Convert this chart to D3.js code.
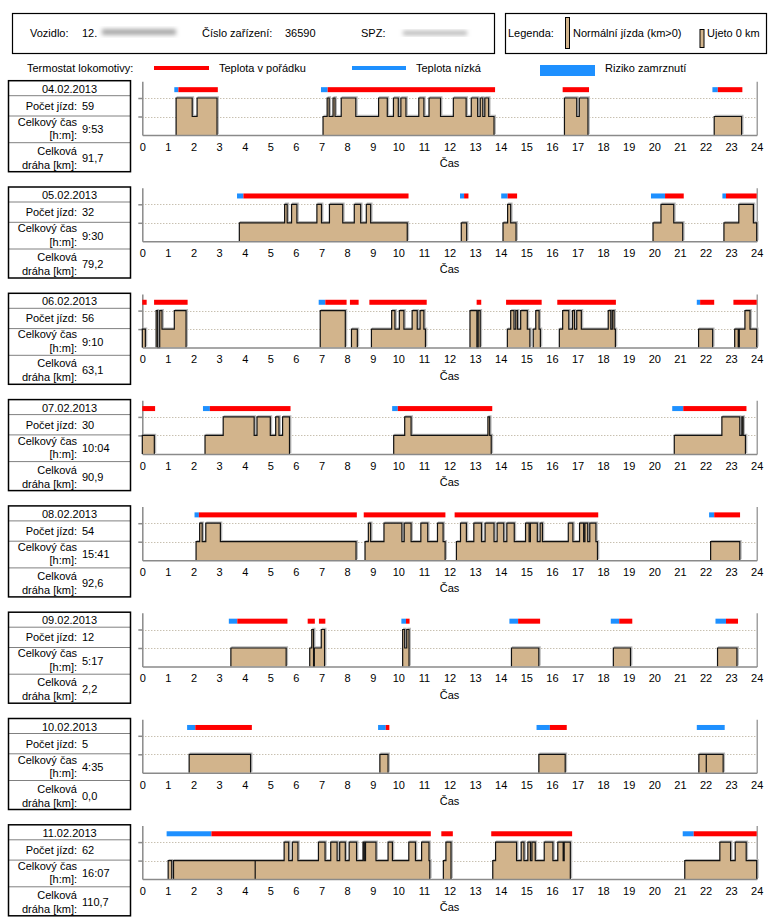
<!DOCTYPE html>
<html><head><meta charset="utf-8">
<script src="https://cdn.jsdelivr.net/npm/d3@7"></script>
<style>
body{margin:0;background:#fff;}
svg{display:block;font-family:"Liberation Sans",Arial,sans-serif;font-size:11px;}
</style></head><body>
<svg id="c" width="777" height="923"></svg>
<script>
// ---------- data ----------
const dates = ["04.02.2013","05.02.2013","06.02.2013","07.02.2013","08.02.2013","09.02.2013","10.02.2013","11.02.2013"];
const tripCounts = ["59","32","56","30","54","12","5","62"];
const totalTimes = ["9:53","9:30","9:10","10:04","15:41","5:17","4:35","16:07"];
const distances = ["91,7","79,2","63,1","90,9","92,6","2,2","0,0","110,7"];
const hourTicks = d3.range(0, 25);
const levelTicks = [1, 2];

// trips: [hour, level] step points, last point level 0
const trips0402 = [
 [[1.32,2],[1.95,1],[2.14,2],[2.92,0]],
 [[7.06,1],[7.22,2],[7.30,1],[7.45,2],[7.53,1],[7.77,2],[8.34,1],[9.23,2],[9.57,1],[9.81,2],[10.0,1],[10.1,2],[10.3,1],[10.8,2],[11.0,1],[11.2,2],[11.65,1],[12.15,2],[12.65,1],[12.85,2],[13.1,1],[13.2,2],[13.3,1],[13.38,2],[13.53,1],[13.74,0]],
 [[16.49,2],[16.97,1],[17.07,2],[17.41,0]],
 [[22.34,1],[23.41,0]]];
const temp0402 = [[1.25,1.41,"low"],[1.41,2.95,"ok"],[6.98,7.24,"low"],[7.24,13.78,"ok"],[16.42,17.45,"ok"],[22.27,22.48,"low"],[22.48,23.44,"ok"]];

const trips0502 = [
 [[3.79,1],[5.56,2],[5.66,1],[5.83,2],[6.04,1],[6.82,2],[7.0,1],[7.31,2],[7.83,1],[8.28,2],[8.53,1],[8.75,2],[8.92,1],[10.35,0]],
 [[12.46,1],[12.67,0]],
 [[14.09,1],[14.27,2],[14.39,1],[14.6,0]],
 [[19.95,1],[20.26,2],[20.76,1],[21.11,0]],
 [[22.72,1],[23.3,2],[23.87,1],[24,0]]];
const temp0502 = [[3.70,3.95,"low"],[3.95,10.4,"ok"],[12.41,12.57,"low"],[12.57,12.74,"ok"],[14.02,14.27,"low"],[14.27,14.64,"ok"],[19.87,20.42,"low"],[20.42,21.15,"ok"],[22.66,22.8,"low"],[22.8,24,"ok"]];

const trips0602 = [
 [[0.0,1],[0.12,0]],
 [[0.54,2],[0.6,0],[0.68,2],[0.77,1],[1.25,2],[1.71,0]],
 [[6.95,2],[7.93,0]],
 [[8.17,1],[8.40,0]],
 [[8.95,1],[9.74,2],[9.87,1],[10.04,2],[10.22,1],[10.54,2],[10.74,1],[10.85,2],[11.0,1],[11.06,0]],
 [[12.8,2],[13.07,0],[13.12,2],[13.2,0]],
 [[14.26,1],[14.39,2],[14.52,1],[14.59,2],[14.66,1],[14.78,2],[15.04,1],[15.14,0]],
 [[15.27,1],[15.37,2],[15.5,1],[15.55,0]],
 [[16.29,1],[16.42,2],[16.66,1],[16.8,2],[16.88,1],[16.97,2],[17.15,1],[18.2,2],[18.3,1],[18.36,2],[18.43,1],[18.48,0]],
 [[21.73,1],[22.28,0]],
 [[23.14,1],[23.28,0],[23.32,1],[23.54,2],[23.74,1],[24,0]]];
const temp0602 = [[0,0.17,"ok"],[0.46,1.77,"ok"],[6.89,7.15,"low"],[7.15,7.98,"ok"],[8.11,8.45,"ok"],[8.87,11.11,"ok"],[13.06,13.24,"ok"],[14.21,15.6,"ok"],[16.21,18.5,"ok"],[21.66,21.79,"low"],[21.79,22.34,"ok"],[23.09,24,"ok"]];

const trips0702 = [
 [[0,1],[0.47,0]],
 [[2.45,1],[3.16,2],[4.37,1],[4.48,2],[5.0,1],[5.21,2],[5.34,1],[5.48,2],[5.75,0]],
 [[9.82,1],[10.25,2],[10.5,1],[13.5,2],[13.57,1],[13.63,0]],
 [[20.78,1],[22.64,2],[23.34,1],[23.42,2],[23.47,1],[23.56,0]]];
const temp0702 = [[0,0.5,"ok"],[2.37,2.64,"low"],[2.64,5.79,"ok"],[9.76,9.98,"low"],[9.98,13.67,"ok"],[20.7,21.13,"low"],[21.13,23.6,"ok"]];

const trips0802 = [
 [[2.1,1],[2.24,2],[2.34,1],[2.48,2],[3.05,1],[8.35,0]],
 [[8.7,1],[8.83,2],[8.92,1],[9.44,2],[10.14,1],[10.23,2],[10.5,1],[10.88,2],[11.15,1],[11.53,2],[11.75,1],[11.83,0]],
 [[12.27,1],[12.43,2],[12.66,1],[12.95,2],[13.25,1],[13.39,2],[13.74,1],[13.86,2],[14.12,1],[14.24,2],[14.53,1],[14.97,2],[15.11,1],[15.16,2],[15.43,1],[15.54,2],[15.63,1],[16.64,2],[16.82,1],[17.08,2],[17.24,1],[17.29,2],[17.4,1],[17.48,2],[17.72,1],[17.78,0]],
 [[22.2,1],[23.34,0]]];
const temp0802 = [[2.04,2.21,"low"],[2.21,8.38,"ok"],[8.65,11.84,"ok"],[12.2,17.81,"ok"],[22.14,22.34,"low"],[22.34,23.35,"ok"]];

const trips0902 = [
 [[3.46,1],[5.62,0]],
 [[6.54,1],[6.62,2],[6.69,0],[6.72,1],[6.99,2],[7.12,0]],
 [[10.17,2],[10.25,1],[10.33,2],[10.42,0]],
 [[14.42,1],[15.49,0]],
 [[18.4,1],[19.07,0]],
 [[22.47,1],[23.23,0]]];
const temp0902 = [[3.38,3.71,"low"],[3.71,5.67,"ok"],[6.46,6.74,"ok"],[6.9,7.15,"ok"],[10.12,10.3,"low"],[10.3,10.44,"ok"],[14.34,14.68,"low"],[14.68,15.54,"ok"],[18.3,18.63,"low"],[18.63,19.14,"ok"],[22.39,22.8,"low"],[22.8,23.27,"ok"]];

const trips1002 = [
 [[1.83,1],[4.23,0]],
 [[9.28,1],[9.6,0]],
 [[15.49,1],[16.52,0]],
 [[21.74,1],[22.03,0],[22.03,1],[22.69,0]]];
const temp1002 = [[1.75,2.07,"low"],[2.07,4.28,"ok"],[9.21,9.51,"low"],[9.51,9.65,"ok"],[15.4,15.92,"low"],[15.92,16.58,"ok"],[21.66,22.75,"low"]];

const trips1102 = [
 [[1.01,1],[1.15,0]],
 [[1.22,1],[4.41,0],[4.41,1],[5.54,2],[5.72,1],[5.86,2],[6.08,1],[6.88,2],[7.14,1],[7.36,2],[7.61,1],[7.71,2],[7.93,1],[8.08,2],[8.37,1],[8.62,2],[8.67,1],[8.72,2],[9.13,1],[9.6,2],[9.77,1],[10.41,2],[10.67,1],[10.91,2],[11.2,1],[11.23,0]],
 [[11.76,1],[11.86,2],[12.06,0]],
 [[13.69,1],[13.8,2],[14.62,1],[14.8,2],[14.91,1],[15.06,2],[15.16,1],[15.22,2],[15.35,1],[15.7,2],[16.04,1],[16.23,2],[16.44,1],[16.48,2],[16.72,0]],
 [[21.19,1],[22.56,2],[22.98,1],[23.16,2],[23.59,1],[24,0]]];
const temp1102 = [[0.95,2.7,"low"],[2.7,11.27,"ok"],[11.68,12.13,"ok"],[13.63,16.79,"ok"],[21.11,21.54,"low"],[21.54,24,"ok"]];

const allTrips = [trips0402,trips0502,trips0602,trips0702,trips0802,trips0902,trips1002,trips1102];
const allTemps = [temp0402,temp0502,temp0602,temp0702,temp0802,temp0902,temp1002,temp1102];

// ---------- drawing ----------
const svg = d3.select("#c");
const TAN = "#D2B48C", RED = "#FF0000", BLUE = "#1E90FF", AXIS = "#8a8a8a";
const x = d3.scaleLinear().domain([0, 24]).range([142.3, 756.7]);

const defs = svg.append("defs");
defs.append("filter").attr("id","blur").attr("x","-20%").attr("y","-50%").attr("width","140%").attr("height","200%")
  .append("feGaussianBlur").attr("stdDeviation", 2.2);

// header
const hdr = svg.append("g");
hdr.append("rect").attr("x",12.5).attr("y",13.5).attr("width",482).attr("height",40).attr("fill","none").attr("stroke","#000").attr("stroke-width",1.2);
hdr.append("rect").attr("x",505.5).attr("y",13.5).attr("width",261).attr("height",40).attr("fill","none").attr("stroke","#000").attr("stroke-width",1.2);
const hy = 37;
hdr.append("text").attr("x",30).attr("y",hy).text("Vozidlo:");
hdr.append("text").attr("x",82).attr("y",hy).text("12.");
hdr.append("rect").attr("x",102).attr("y",29).attr("width",74).attr("height",6).attr("fill","#a8a8a8").attr("filter","url(#blur)");
hdr.append("text").attr("x",202).attr("y",hy).text("Číslo zařízení:");
hdr.append("text").attr("x",285).attr("y",hy).text("36590");
hdr.append("text").attr("x",361).attr("y",hy).text("SPZ:");
hdr.append("rect").attr("x",403).attr("y",31).attr("width",64).attr("height",4).attr("fill","#b0b0b0").attr("filter","url(#blur)");
hdr.append("text").attr("x",508).attr("y",hy).text("Legenda:");
hdr.append("rect").attr("x",565.5).attr("y",17.5).attr("width",4).attr("height",31).attr("fill",TAN).attr("stroke","#000").attr("stroke-width",1);
hdr.append("text").attr("x",573).attr("y",hy).text("Normální jízda (km>0)");
hdr.append("rect").attr("x",700).attr("y",29.5).attr("width",4).attr("height",18).attr("fill",TAN).attr("stroke","#000").attr("stroke-width",1);
hdr.append("text").attr("x",707).attr("y",hy).text("Ujeto 0 km");

// thermostat legend
const lg = svg.append("g");
const ly = 72;
lg.append("text").attr("x",27).attr("y",ly).text("Termostat lokomotivy:");
lg.append("rect").attr("x",154).attr("y",66).attr("width",55).attr("height",4).attr("fill",RED);
lg.append("text").attr("x",219).attr("y",ly).text("Teplota v pořádku");
lg.append("rect").attr("x",352).attr("y",66).attr("width",54).attr("height",4).attr("fill",BLUE);
lg.append("text").attr("x",416).attr("y",ly).text("Teplota nízká");
lg.append("rect").attr("x",540).attr("y",65).attr("width",55).attr("height",11).attr("fill",BLUE);
lg.append("text").attr("x",605).attr("y",ly).text("Riziko zamrznutí");

// panels
const LEVEL = 18.5;
dates.forEach((d, i) => {
  const top = 80.7 + i * 106.3;
  const base = top + 54.3;
  const y = d3.scaleLinear().domain([0, 2.9]).range([base, base - 2.9 * LEVEL]);
  const g = svg.append("g");

  // info box
  const bx = 8.5, bw = 122;
  g.append("rect").attr("x",bx).attr("y",top).attr("width",bw).attr("height",91).attr("fill","none").attr("stroke","#000").attr("stroke-width",1.5);
  [15, 35.3, 62].forEach(o => g.append("line").attr("x1",bx).attr("x2",bx+bw).attr("y1",top+o).attr("y2",top+o)
     .attr("stroke","#000").attr("stroke-width",1).attr("stroke-dasharray","1,1"));
  g.append("text").attr("x",bx+bw/2).attr("y",top+12).attr("text-anchor","middle").text(d);
  g.append("text").attr("x",77).attr("y",top+29).attr("text-anchor","end").text("Počet jízd:");
  g.append("text").attr("x",82).attr("y",top+29).text(tripCounts[i]);
  g.append("text").attr("x",77).attr("y",top+45).attr("text-anchor","end").text("Celkový čas");
  g.append("text").attr("x",77).attr("y",top+58.5).attr("text-anchor","end").text("[h:m]:");
  g.append("text").attr("x",82).attr("y",top+52.5).text(totalTimes[i]);
  g.append("text").attr("x",77).attr("y",top+74).attr("text-anchor","end").text("Celková");
  g.append("text").attr("x",77).attr("y",top+88).attr("text-anchor","end").text("dráha [km]:");
  g.append("text").attr("x",82).attr("y",top+81).text(distances[i]);

  // grid
  g.selectAll(".grid").data(levelTicks).join("line")
    .attr("x1",x(0)).attr("x2",x(24)).attr("y1",v=>Math.round(y(v))+0.5).attr("y2",v=>Math.round(y(v))+0.5)
    .attr("stroke","#b0a58f").attr("stroke-width",1).attr("stroke-dasharray","1,2");

  // axes
  const ya = g.append("g").attr("transform",`translate(${x(0)},0)`)
    .call(d3.axisLeft(y).tickValues(levelTicks).tickSize(4).tickSizeOuter(0).tickFormat(""));
  ya.selectAll("path,line").attr("stroke",AXIS).attr("stroke-width",1.5);
  const yr = g.append("g").attr("transform",`translate(${x(24)},0)`)
    .call(d3.axisRight(y).tickValues([]).tickSizeOuter(0));
  yr.selectAll("path").attr("stroke",AXIS).attr("stroke-width",1.2);

  // trips
  const trips = allTrips[i];
  const area = d3.area().x(p=>x(p[0])).y0(base).y1(p=>y(p[1])).curve(d3.curveStepAfter);
  const line = d3.line().x(p=>x(p[0])).y(p=>y(p[1])).curve(d3.curveStepAfter);
  trips.forEach(tr => {
    const pts = [[tr[0][0], 0]].concat(tr);
    g.append("path").attr("d", line(pts)).attr("fill","none").attr("stroke","#b8b8b8").attr("stroke-width",1.4)
      .attr("transform","translate(1.2,-1)");
    g.append("path").attr("d", area(pts)).attr("fill",TAN);
    g.append("path").attr("d", line(pts)).attr("fill","none").attr("stroke","#111").attr("stroke-width",1.2);
  });

  // x axis
  const xa = g.append("g").attr("transform",`translate(0,${base})`)
    .call(d3.axisBottom(x).tickValues(hourTicks).tickSize(0).tickSizeOuter(0).tickPadding(8));
  xa.select("path").attr("stroke",AXIS).attr("stroke-width",1.5);
  xa.selectAll("text").attr("font-size","11px").attr("font-family","Liberation Sans, Arial, sans-serif").attr("fill","#000");
  g.append("text").attr("x",(x(0)+x(24))/2).attr("y",base+32).attr("text-anchor","middle").text("Čas");

  // thermostat bars
  g.selectAll(".temp").data(allTemps[i]).join("rect")
    .attr("x",s=>x(s[0])).attr("width",s=>x(s[1])-x(s[0]))
    .attr("y",y(2.45)-2.5).attr("height",5)
    .attr("fill",s=>s[2]==="ok"?RED:BLUE);
});
</script>
</body></html>
